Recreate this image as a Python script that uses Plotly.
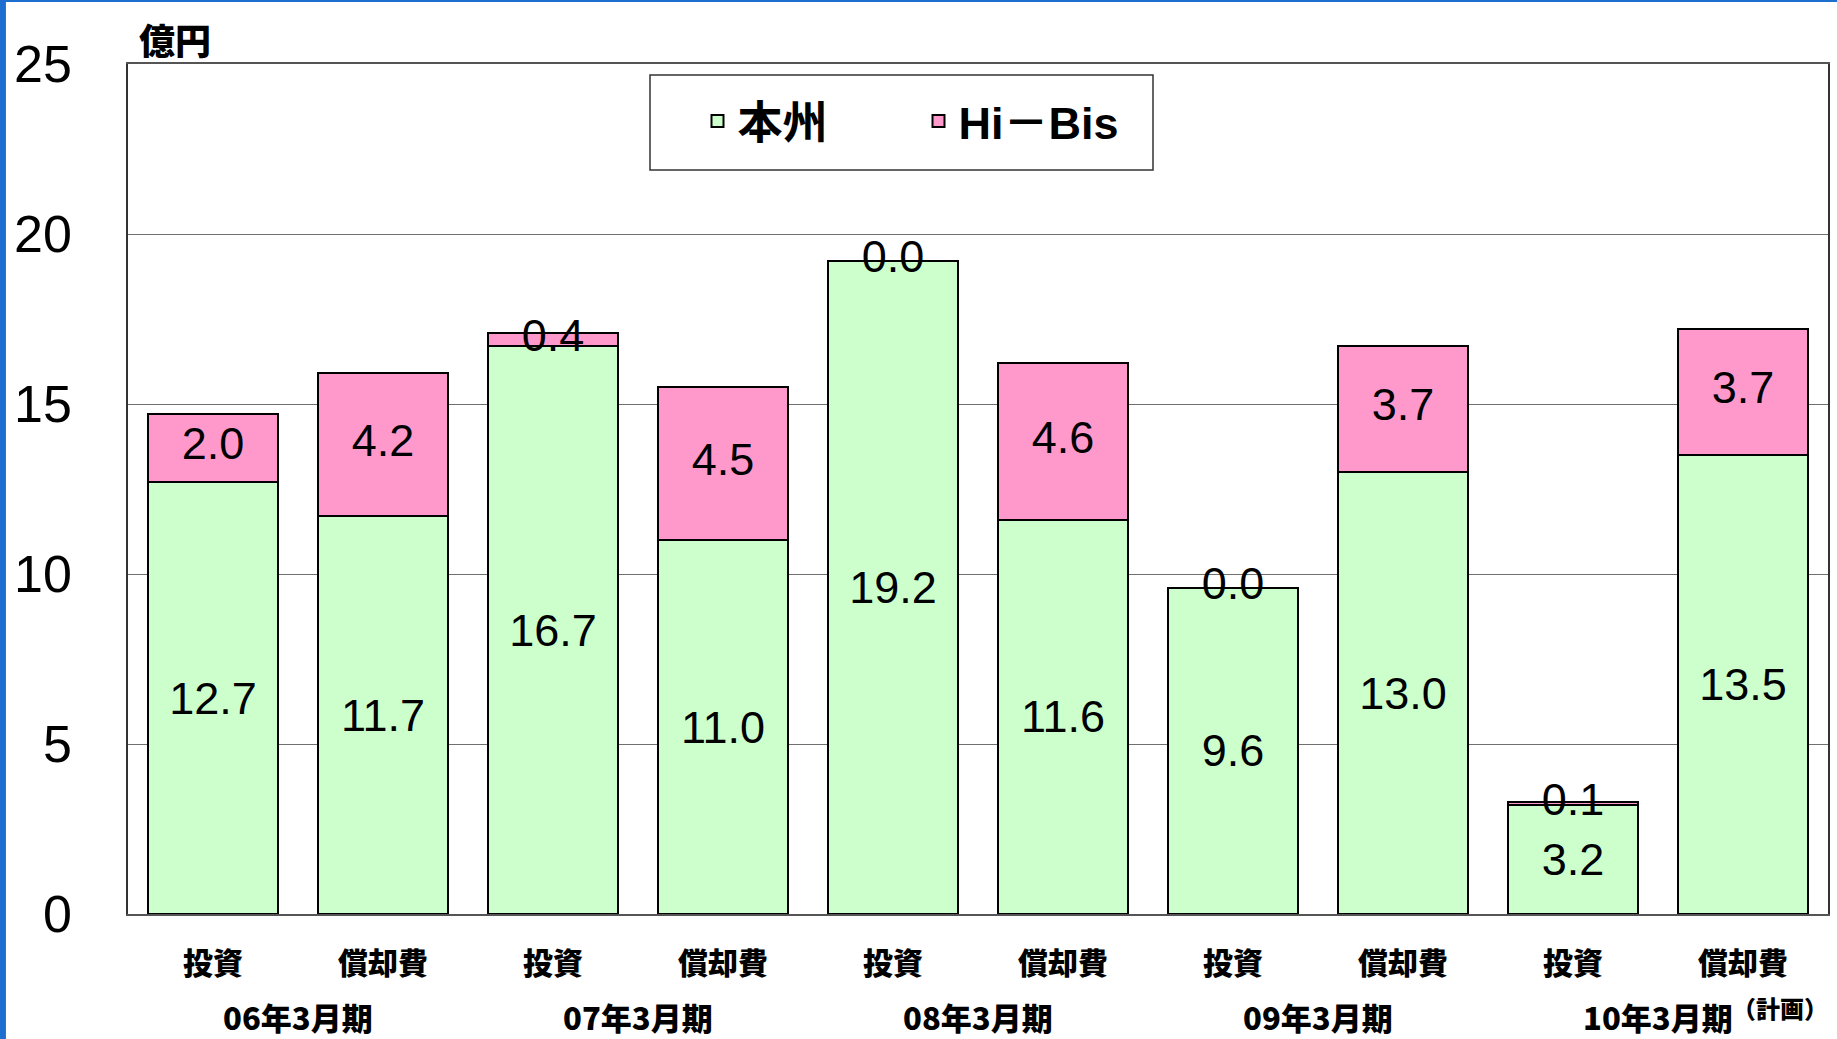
import plotly.graph_objects as go

# ---- data ----
categories = ["投資", "償却費", "投資", "償却費", "投資", "償却費", "投資", "償却費", "投資", "償却費"]
periods = ["06年3月期", "07年3月期", "08年3月期", "09年3月期", "10年3月期"]
period_notes = ["", "", "", "", "（計画）"]
honshu = [12.7, 11.7, 16.7, 11.0, 19.2, 11.6, 9.6, 13.0, 3.2, 13.5]
hibis = [2.0, 4.2, 0.4, 4.5, 0.0, 4.6, 0.0, 3.7, 0.1, 3.7]
series_names = ["本州", "Hi－Bis"]
y_ticks = [0, 5, 10, 15, 20, 25]
unit_label = "億円"

GREEN = "#CCFFCC"
PINK = "#FF99CC"
NUM = "Liberation Sans, Arial, sans-serif"
CJK = "Noto Sans CJK JP, sans-serif"

x = list(range(len(categories)))

fig = go.Figure()
fig.add_trace(go.Bar(
    x=x, y=honshu, name=series_names[0],
    marker=dict(color=GREEN, line=dict(color="black", width=2)),
    text=[f"{v:.1f}" for v in honshu], textposition="inside",
    insidetextanchor="middle", textangle=0,
    textfont=dict(family=NUM, size=45, color="black"),
    cliponaxis=False,
))
fig.add_trace(go.Bar(
    x=x, y=hibis, name=series_names[1],
    marker=dict(color=PINK, line=dict(color="black", width=2)),
    textposition="none",
))
# labels for the Hi-Bis segments (centered on each segment)
fig.add_trace(go.Scatter(
    x=x, y=[h + b / 2 for h, b in zip(honshu, hibis)],
    mode="text", text=[f"{v:.1f}" for v in hibis],
    textposition="middle center",
    textfont=dict(family=NUM, size=45, color="black"),
    showlegend=False, hoverinfo="skip", cliponaxis=False,
))

annotations = []
for i, (p, n) in enumerate(zip(periods, period_notes)):
    annotations.append(dict(
        x=2 * i + 0.5, xref="x", y=-0.121, yref="paper",
        text=p, showarrow=False, xanchor="center", yanchor="middle",
        font=dict(family=CJK, size=31, color="black", weight=900),
    ))
    if n:
        annotations.append(dict(
            x=2 * i + 0.5, xref="x", y=-0.110, yref="paper", xshift=72,
            text=n, showarrow=False, xanchor="left", yanchor="middle",
            font=dict(family=CJK, size=24, color="black", weight=900),
        ))
annotations.append(dict(
    x=0.005, xref="paper", y=1.029, yref="paper", text=unit_label,
    showarrow=False, xanchor="left", yanchor="middle",
    font=dict(family=CJK, size=36, color="black", weight=900),
))

fig.update_layout(
    width=1837, height=1039,
    margin=dict(l=128, r=9, t=64, b=125, autoexpand=False),
    paper_bgcolor="white", plot_bgcolor="white",
    barmode="stack", bargap=0.23,
    showlegend=True,
    legend=dict(
        orientation="h", x=0.335, y=0.975, xanchor="left", yanchor="top",
        borderwidth=0, bgcolor="rgba(0,0,0,0)",
        font=dict(family="Liberation Sans, Noto Sans CJK JP, sans-serif", size=45, color="black", weight="bold"),
        entrywidth=176, entrywidthmode="pixels",
        traceorder="normal",
    ),
    annotations=annotations,
    shapes=[
        # legend frame
        dict(type="rect", xref="paper", yref="paper",
             x0=(650 - 128) / 1700, x1=(1153 - 128) / 1700,
             y0=(914 - 170) / 850, y1=(914 - 75) / 850,
             fillcolor="white", line=dict(color="#333333", width=1.5), layer="below"),
        # slide border
        dict(type="rect", xref="paper", yref="paper", x0=-0.0753, x1=-0.0718, y0=-0.15, y1=1.08,
             fillcolor="#1E6ED0", line=dict(width=0), layer="above"),
        dict(type="rect", xref="paper", yref="paper", x0=-0.0753, x1=1.01, y0=1.0729, y1=1.08,
             fillcolor="#1E6ED0", line=dict(width=0), layer="above"),
    ],
)
fig.update_xaxes(
    tickvals=x, ticktext=categories, range=[-0.5, len(categories) - 0.5],
    showline=True, linecolor="#555555", linewidth=1.5, mirror=True,
    showgrid=False, ticks="", ticklabelstandoff=22, automargin=False,
    tickfont=dict(family=CJK, size=30, color="black", weight=900),
)
fig.update_yaxes(
    range=[0, 25], tickvals=y_ticks, ticktext=[str(v) for v in y_ticks],
    showline=True, linecolor="#333333", linewidth=1.5, mirror=True,
    showgrid=True, gridcolor="#707070", gridwidth=1,
    ticks="", ticklabelstandoff=44, zeroline=False, automargin=False,
    tickfont=dict(family=NUM, size=52, color="black"),
)

fig.write_html("out.html", config={"displayModeBar": False},
               post_script="document.body.style.margin='0';")
